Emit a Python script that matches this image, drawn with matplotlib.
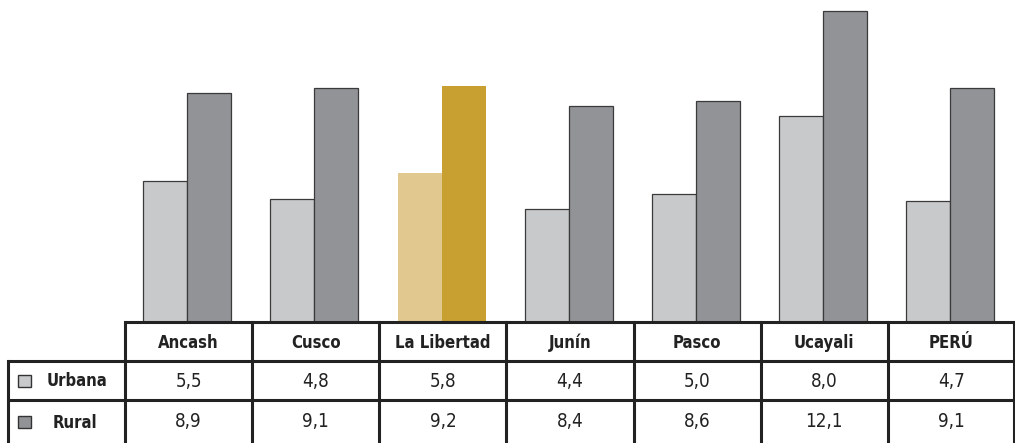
import matplotlib.pyplot as plt
import numpy as np

regiones = ['Ancash', 'Cusco', 'La Libertad', 'Junín', 'Pasco', 'Ucayali', 'PERÚ']
urbana = [5.5, 4.8, 5.8, 4.4, 5.0, 8.0, 4.7]
rural = [8.9, 9.1, 9.2, 8.4, 8.6, 12.1, 9.1]
series = ['Urbana', 'Rural']
destacado = 'La Libertad'

col_urb = '#c8c9cb'
col_rur = '#929397'
col_urb_hl = '#e0c88f'
col_rur_hl = '#c8a032'

W, H = 1015, 443
fig = plt.figure(figsize=(W / 100, H / 100), dpi=100)
font = ['DejaVu Sans', 'Liberation Sans']

# bars
base = 322
ax = fig.add_axes([125 / W, (H - base) / H, 890 / W, base / H])
x = np.arange(len(regiones))
w = 0.346
for i, reg in enumerate(regiones):
    hl = reg == destacado
    ax.bar(x[i] - w / 2 - 0.01, urbana[i], w, color=col_urb_hl if hl else col_urb,
           edgecolor='none' if hl else '#3a3a3a', linewidth=0 if hl else 0.9)
    ax.bar(x[i] + w / 2 - 0.01, rural[i], w, color=col_rur_hl if hl else col_rur,
           edgecolor='none' if hl else '#3a3a3a', linewidth=0 if hl else 0.9)
ax.set_xlim(-0.5, len(regiones) - 0.5)
ax.set_ylim(0, base / 25.7)
ax.axis('off')

# table
tb = fig.add_axes([0, 0, 1, 1])
tb.set_xlim(0, W)
tb.set_ylim(H, 0)
tb.axis('off')
lw = 2.2
x0, xc = 8, 125
colw = (W - xc) / len(regiones)
rows = [base, 361, 400, 443]
tb.plot([xc, W], [rows[0], rows[0]], color='#222', lw=lw, solid_capstyle='butt')
for r in rows[1:3]:
    tb.plot([x0, W], [r, r], color='#222', lw=lw, solid_capstyle='butt')
tb.plot([x0, x0], [rows[1], H], color='#222', lw=lw)
for j in range(len(regiones) + 1):
    xx = xc + j * colw
    if j == len(regiones):
        xx = W - 1
    tb.plot([xx, xx], [rows[0], H], color='#222', lw=lw)

for j, reg in enumerate(regiones):
    cx = xc + (j + 0.5) * colw
    tb.text(cx, (rows[0] + rows[1]) / 2 + 1, reg, ha='center', va='center',
            fontsize=12, fontweight='bold', fontstretch='condensed',
            family=font, color='#222')
    tb.text(cx, (rows[1] + rows[2]) / 2 + 1, f'{urbana[j]:.1f}'.replace('.', ','),
            ha='center', va='center', fontsize=13.5, fontstretch='condensed',
            family=font, color='#222')
    tb.text(cx, (rows[2] + rows[3]) / 2, f'{rural[j]:.1f}'.replace('.', ','),
            ha='center', va='center', fontsize=13.5, fontstretch='condensed',
            family=font, color='#222')

for k, (name, c) in enumerate(zip(series, [col_urb, col_rur])):
    cy = (rows[k + 1] + rows[k + 2]) / 2
    tb.add_patch(plt.Rectangle((18, cy - 6), 13, 12, facecolor=c,
                               edgecolor='#333', lw=1))
    tb.text(47 if k == 0 else 53, cy + 1, name, ha='left', va='center',
            fontsize=12, fontweight='bold', fontstretch='condensed',
            family=font, color='#222')

fig.savefig('out.png', dpi=100)
